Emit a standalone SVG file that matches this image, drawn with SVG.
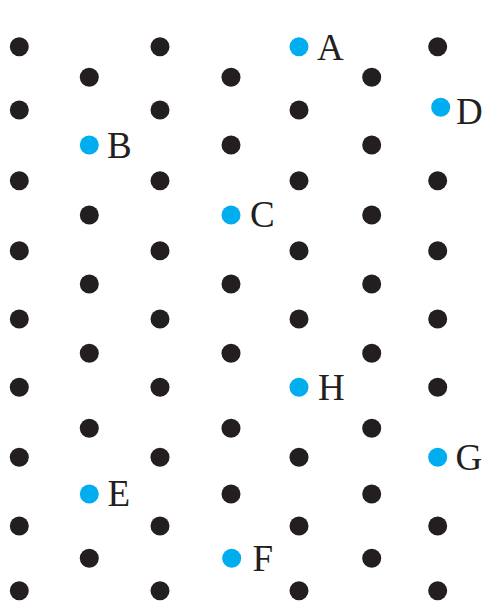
<svg xmlns="http://www.w3.org/2000/svg" width="483" height="601" viewBox="0 0 483 601">
<style>
.d{fill:#231F20}
.b{fill:#00AEEF}
.t{font-family:"Liberation Serif","Times New Roman",serif;font-size:37px;fill:#231F20}
</style>
<rect width="483" height="601" fill="#ffffff"/>
<g id="grid">
<circle class="d" cx="19.3" cy="46.7" r="9.5"/><circle class="d" cx="160" cy="46.7" r="9.5"/><circle class="d" cx="437.7" cy="46.7" r="9.5"/>
<circle class="d" cx="19.3" cy="110" r="9.5"/><circle class="d" cx="160" cy="110" r="9.5"/><circle class="d" cx="299" cy="110" r="9.5"/>
<circle class="d" cx="19.3" cy="180.7" r="9.5"/><circle class="d" cx="160" cy="180.7" r="9.5"/><circle class="d" cx="299" cy="180.7" r="9.5"/><circle class="d" cx="437.7" cy="180.7" r="9.5"/>
<circle class="d" cx="19.3" cy="250.7" r="9.5"/><circle class="d" cx="160" cy="250.7" r="9.5"/><circle class="d" cx="299" cy="250.7" r="9.5"/><circle class="d" cx="437.7" cy="250.7" r="9.5"/>
<circle class="d" cx="19.3" cy="319" r="9.5"/><circle class="d" cx="160" cy="319" r="9.5"/><circle class="d" cx="299" cy="319" r="9.5"/><circle class="d" cx="437.7" cy="319" r="9.5"/>
<circle class="d" cx="19.3" cy="387.3" r="9.5"/><circle class="d" cx="160" cy="387.3" r="9.5"/><circle class="d" cx="437.7" cy="387.3" r="9.5"/>
<circle class="d" cx="19.3" cy="457.3" r="9.5"/><circle class="d" cx="160" cy="457.3" r="9.5"/><circle class="d" cx="299" cy="457.3" r="9.5"/>
<circle class="d" cx="19.3" cy="526" r="9.5"/><circle class="d" cx="160" cy="526" r="9.5"/><circle class="d" cx="299" cy="526" r="9.5"/><circle class="d" cx="437.7" cy="526" r="9.5"/>
<circle class="d" cx="19.3" cy="590.7" r="9.5"/><circle class="d" cx="160" cy="590.7" r="9.5"/><circle class="d" cx="299" cy="590.7" r="9.5"/><circle class="d" cx="437.7" cy="590.7" r="9.5"/>
<circle class="d" cx="89.3" cy="77.3" r="9.5"/><circle class="d" cx="231" cy="77.3" r="9.5"/><circle class="d" cx="371.7" cy="77.3" r="9.5"/>
<circle class="d" cx="231" cy="145" r="9.5"/><circle class="d" cx="371.7" cy="145" r="9.5"/>
<circle class="d" cx="89.3" cy="215" r="9.5"/><circle class="d" cx="371.7" cy="215" r="9.5"/>
<circle class="d" cx="89.3" cy="284" r="9.5"/><circle class="d" cx="231" cy="284" r="9.5"/><circle class="d" cx="371.7" cy="284" r="9.5"/>
<circle class="d" cx="89.3" cy="353.3" r="9.5"/><circle class="d" cx="231" cy="353.3" r="9.5"/><circle class="d" cx="371.7" cy="353.3" r="9.5"/>
<circle class="d" cx="89.3" cy="428.3" r="9.5"/><circle class="d" cx="231" cy="428.3" r="9.5"/><circle class="d" cx="371.7" cy="428.3" r="9.5"/>
<circle class="d" cx="231" cy="494" r="9.5"/><circle class="d" cx="371.7" cy="494" r="9.5"/>
<circle class="d" cx="89.3" cy="558.3" r="9.5"/><circle class="d" cx="371.7" cy="558.3" r="9.5"/>
</g>
<g id="A"><circle class="b" cx="299" cy="46.7" r="9.5"/><text class="t" x="317" y="59.5">A</text></g>
<g id="B"><circle class="b" cx="89.3" cy="145" r="9.5"/><text class="t" x="107" y="157.5">B</text></g>
<g id="C"><circle class="b" cx="231" cy="215" r="9.5"/><text class="t" x="250" y="227">C</text></g>
<g id="D"><circle class="b" cx="440.7" cy="107.3" r="9.5"/><text class="t" x="456" y="123.5">D</text></g>
<g id="E"><circle class="b" cx="89.3" cy="494" r="9.5"/><text class="t" x="107.5" y="506">E</text></g>
<g id="F"><circle class="b" cx="231.7" cy="558.3" r="9.5"/><text class="t" x="252.5" y="570.7">F</text></g>
<g id="G"><circle class="b" cx="437.7" cy="457.3" r="9.5"/><text class="t" x="455.5" y="470">G</text></g>
<g id="H"><circle class="b" cx="299" cy="387.3" r="9.5"/><text class="t" x="318" y="399.5">H</text></g>
<g id="connectors"/>
</svg>
